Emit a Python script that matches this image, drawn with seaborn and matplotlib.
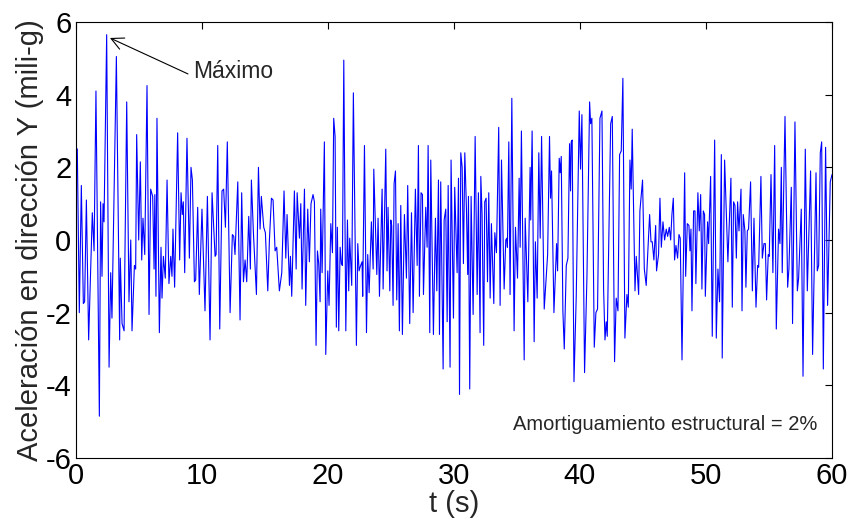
import numpy as np
import pandas as pd
import matplotlib
matplotlib.use("Agg")
import matplotlib.pyplot as plt
import seaborn as sns

t_00_10 = [0.00, 0.13, 0.29, 0.45, 0.61, 0.71, 0.85, 1.03, 1.32, 1.46,
           1.61, 1.88, 1.98, 2.09, 2.17, 2.25, 2.46, 2.65, 2.78, 2.88,
           3.23, 3.49, 3.54, 3.68, 3.84, 4.05, 4.23, 4.37, 4.47, 4.66,
           4.76, 4.84, 5.00, 5.13, 5.24, 5.34, 5.48, 5.66, 5.82, 5.95,
           6.11, 6.22, 6.28, 6.37, 6.45, 6.64, 6.77, 6.85, 6.96, 7.11,
           7.25, 7.40, 7.54, 7.64, 7.72, 7.85, 8.09, 8.25, 8.36, 8.46,
           8.54, 8.65, 8.83, 9.02, 9.15, 9.26, 9.42, 9.52, 9.68, 9.81]
a_00_10 = [2.55, 2.50, -2.00, 1.50, -1.75, -1.70, 1.10, -2.75, 0.75, -0.30,
           4.10, -4.85, 1.05, -1.00, 1.00, 0.50, 5.65, -3.50, -0.90, -2.15,
           5.05, -2.75, -0.50, -2.30, -2.50, 3.80, -1.70, 0.00, -2.50, -0.70,
           -0.80, 2.90, 0.00, 2.15, -0.55, 0.60, -0.40, 4.25, -2.05, 1.40,
           1.20, -0.80, 1.25, -1.55, 3.35, -2.55, -0.20, -1.60, -0.45, -1.05,
           1.65, -1.20, -0.45, -1.00, 0.30, -1.30, 2.95, -0.55, 1.30, 0.70,
           1.05, -0.90, 2.80, -0.50, 2.00, 1.65, -1.15, -1.10, 0.90, -1.50]

t_10_20 = [10.02, 10.26, 10.45, 10.66, 10.82, 11.06, 11.14, 11.27, 11.43, 11.61,
           11.74, 11.88, 12.03, 12.25, 12.43, 12.54, 12.64, 12.86, 13.04, 13.17,
           13.31, 13.44, 13.57, 13.73, 13.86, 13.94, 14.10, 14.21, 14.34, 14.50,
           14.63, 14.73, 14.92, 15.05, 15.24, 15.37, 15.53, 15.66, 15.82, 15.95,
           16.16, 16.35, 16.53, 16.67, 16.77, 16.96, 17.04, 17.14, 17.35, 17.49,
           17.57, 17.75, 17.86, 17.96, 18.15, 18.25, 18.41, 18.54, 18.67, 18.83,
           18.94, 19.07, 19.18, 19.28, 19.39, 19.44, 19.55, 19.73, 19.84]
a_10_20 = [0.85, -1.95, 1.20, -2.75, 1.30, -0.45, -0.40, 2.60, -2.45, 1.35,
           1.40, 0.35, 2.70, -2.00, 0.15, 0.10, -0.40, 1.60, -2.20, 1.30,
           -1.15, -0.55, -1.15, 0.65, -0.80, 1.65, 0.20, -0.60, -1.50, 2.00,
           0.30, 1.20, 0.35, 0.20, -1.40, 0.00, 1.15, 1.10, -0.30, -0.20,
           -1.40, -0.90, 1.35, -0.50, 0.70, -1.25, -0.45, -1.55, 1.35, -0.80,
           1.30, 0.05, 1.00, -1.35, 1.40, -1.80, 0.85, -0.60, 1.00, 1.25,
           1.05, -2.90, -0.30, -0.65, -1.70, 0.85, -0.90, 2.70, -3.15]

t_20_30 = [20.00, 20.10, 20.24, 20.37, 20.47, 20.58, 20.68, 20.76, 20.87, 20.98,
           21.08, 21.16, 21.27, 21.43, 21.56, 21.66, 21.74, 21.90, 22.03, 22.27,
           22.38, 22.48, 22.56, 22.72, 22.77, 22.91, 23.07, 23.17, 23.28, 23.46,
           23.60, 23.65, 23.89, 23.99, 24.10, 24.31, 24.39, 24.60, 24.70, 24.78,
           24.92, 25.00, 25.07, 25.18, 25.26, 25.37, 25.47, 25.58, 25.68, 25.79,
           25.92, 26.08, 26.24, 26.34, 26.50, 26.64, 26.77, 26.95, 27.09, 27.19,
           27.27, 27.40, 27.51, 27.59, 27.77, 27.88, 27.96, 28.09, 28.17, 28.38,
           28.54, 28.65, 28.78, 28.86, 28.96, 29.15, 29.23, 29.36, 29.47, 29.55,
           29.70, 29.78, 29.97]
a_20_30 = [-0.85, -1.80, 0.45, -0.35, 3.35, 2.85, -2.40, 0.35, -2.50, -0.20,
           -0.65, -0.70, 4.95, -2.50, 0.55, -1.40, 0.05, -1.25, 4.05, -2.90,
           -0.10, -0.85, -0.75, -0.60, -1.55, 2.60, -2.55, -0.40, -1.45, 0.50,
           -0.80, 1.95, -0.95, 0.60, -1.55, 1.40, -1.35, 2.50, -0.85, 0.90,
           -1.40, 0.55, 0.40, -1.80, 1.55, 1.90, -1.65, 0.45, -2.50, 0.95,
           -2.60, 0.70, -1.05, 1.50, -2.30, 0.75, -2.00, 1.40, -0.70, 2.60,
           -1.55, 1.30, 1.25, -1.50, 0.90, -0.20, 2.60, -2.55, 2.20, -2.60,
           0.60, -1.40, 1.65, -2.60, 1.60, -3.55, 0.55, 0.85, -2.25, 1.50,
           -3.50, 2.20, -2.15]

t_30_40 = [30.07, 30.26, 30.37, 30.45, 30.55, 30.66, 30.76, 30.87, 31.00, 31.10,
           31.16, 31.26, 31.37, 31.53, 31.69, 31.85, 31.95, 32.08, 32.14, 32.24,
           32.37, 32.45, 32.56, 32.67, 32.77, 32.88, 32.98, 33.17, 33.25, 33.38,
           33.56, 33.67, 33.78, 33.99, 34.12, 34.20, 34.25, 34.36, 34.46, 34.60,
           34.78, 34.89, 35.05, 35.18, 35.26, 35.36, 35.58, 35.66, 35.87, 36.05,
           36.10, 36.21, 36.37, 36.47, 36.61, 36.74, 36.85, 36.96, 37.17, 37.44,
           37.59, 37.67, 37.75, 37.94, 38.15, 38.23, 38.36, 38.44, 38.52, 38.65,
           38.76, 38.92, 39.05, 39.18, 39.26, 39.31, 39.39, 39.53, 39.71, 39.95]
a_30_40 = [1.45, -0.90, 1.70, -4.25, 2.40, 2.00, -0.65, 2.40, 0.85, -0.95,
           1.20, -4.10, 1.20, -2.05, 2.85, -1.50, 1.30, -2.55, 1.75, 0.70,
           -2.90, 1.05, 1.15, -1.15, 1.30, -1.60, 0.45, -1.75, 0.20, -0.35,
           3.10, -1.80, 2.20, -1.35, 0.00, 0.05, -0.20, 2.70, -1.50, 3.90,
           -2.50, 0.35, -1.05, 1.70, -0.20, 3.00, -3.30, 0.60, -1.70, 2.00,
           0.55, 3.00, -2.80, -0.05, -1.60, 2.40, 0.05, 2.85, -1.90, -0.40,
           2.85, 1.15, 1.90, -2.00, -0.10, -0.85, 2.25, 1.85, 2.30, -1.95,
           -3.00, -0.70, -0.50, 2.65, 1.35, 2.70, 2.75, -3.90, -1.55, 3.55]

t_40_50 = [40.05, 40.16, 40.37, 40.56, 40.77, 40.85, 40.95, 41.14, 41.27, 41.40,
           41.59, 41.75, 41.88, 41.99, 42.09, 42.17, 42.44, 42.57, 42.75, 42.88,
           43.02, 43.15, 43.28, 43.41, 43.57, 43.73, 43.84, 43.97, 44.07, 44.15,
           44.37, 44.47, 44.66, 44.76, 44.97, 45.11, 45.26, 45.53, 45.64, 45.74,
           45.87, 46.01, 46.08, 46.24, 46.35, 46.46, 46.59, 46.72, 46.85, 46.96,
           47.09, 47.20, 47.30, 47.41, 47.51, 47.62, 47.75, 47.86, 47.96, 48.10,
           48.31, 48.39, 48.52, 48.65, 48.73, 48.81, 48.89, 49.02, 49.13, 49.20,
           49.36, 49.47, 49.58, 49.68, 49.79, 49.89, 49.95]
a_40_50 = [1.95, 3.45, -3.65, -1.00, 3.80, 3.20, 3.35, -2.95, -2.00, -1.90,
           3.35, 3.55, -1.35, -2.75, -2.25, -2.65, 3.20, 3.40, -3.35, -1.60,
           -1.95, 2.35, 2.45, 4.45, -2.70, -1.50, -1.85, 2.20, 1.40, 3.05,
           -1.40, -0.45, -1.50, 0.80, 1.65, -0.80, -1.25, 0.70, -0.05, -0.05,
           -0.55, 0.40, -0.85, -0.40, 1.15, -0.20, 0.50, 0.00, 0.30, 0.10,
           0.35, 0.00, 0.70, 1.15, -0.55, -0.15, -0.50, 0.15, 0.05, -3.30,
           1.85, -1.00, 0.45, 0.40, -0.30, 0.30, -1.95, 0.80, 0.80, -1.20,
           1.30, 0.25, 1.25, -1.35, 0.80, 0.70, -1.55]

t_50_60 = [50.13, 50.21, 50.37, 50.50, 50.69, 50.82, 50.95, 51.08, 51.22, 51.29,
           51.48, 51.61, 51.74, 51.98, 52.09, 52.19, 52.30, 52.41, 52.51, 52.62,
           52.78, 52.86, 52.96, 53.09, 53.17, 53.28, 53.38, 53.54, 53.68, 53.81,
           53.97, 54.10, 54.18, 54.36, 54.47, 54.60, 54.71, 54.81, 54.94, 55.02,
           55.16, 55.31, 55.45, 55.58, 55.76, 55.87, 55.98, 56.05, 56.27, 56.48,
           56.58, 56.77, 56.87, 57.06, 57.25, 57.35, 57.56, 57.70, 57.88, 58.04,
           58.30, 58.46, 58.73, 58.83, 58.94, 59.07, 59.18, 59.31, 59.49, 59.65,
           59.86, 60.00]
a_50_60 = [0.50, -0.10, 1.75, -2.65, 2.75, -2.70, -0.80, -1.70, 2.35, -3.25,
           2.20, 0.80, -0.60, 1.70, -1.85, 1.05, 0.95, -0.50, 1.05, 0.25,
           1.40, -1.95, 0.70, 0.25, -1.30, 0.25, 0.30, 1.60, -1.40, 0.60,
           -1.85, -0.70, -0.75, 1.75, -0.50, -0.10, -0.10, -1.65, -0.40, -0.45,
           1.80, -0.90, 2.60, -2.45, 0.30, -0.10, 2.00, -0.90, 3.40, -1.30,
           -0.80, 1.45, -2.30, 3.25, -1.40, -1.05, 0.85, -3.75, 2.50, -1.40,
           1.90, -3.15, 1.85, -0.85, -0.70, 2.40, 2.70, -3.55, 2.55, -1.80,
           1.60, 1.80]

x_ticks = [0, 10, 20, 30, 40, 50, 60]
y_ticks = [-6, -4, -2, 0, 2, 4, 6]

# pico maximo y texto de amortiguamiento
t_max, a_max = 2.72, 5.56
t_lbl, a_lbl = 9.3, 4.45


def main():
    sns.set_style("white")
    plt.rcParams['font.family'] = ['Liberation Sans', 'DejaVu Sans']
    plt.rcParams['axes.unicode_minus'] = False

    df = pd.DataFrame({
        't': np.concatenate([t_00_10, t_10_20, t_20_30, t_30_40, t_40_50, t_50_60]),
        'a': np.concatenate([a_00_10, a_10_20, a_20_30, a_30_40, a_40_50, a_50_60]),
    })

    fig = plt.figure(figsize=(8.53, 5.22), dpi=100)
    ax = fig.add_axes([0.0887, 0.1226, 0.8867, 0.8353])
    sns.lineplot(data=df, x='t', y='a', ax=ax, color='blue', lw=0.8,
                 estimator=None, sort=False)

    ax.set_xlim(0, 60)
    ax.set_ylim(-6, 6)
    ax.set_xticks(x_ticks)
    ax.set_yticks(y_ticks)
    ax.tick_params(direction='in', top=True, right=True, length=5, width=0.8,
                   labelsize=21, colors='black', pad=3)
    for s in ax.spines.values():
        s.set_visible(True)
        s.set_color('black')
        s.set_linewidth(0.8)

    ax.set_xlabel('t (s)', fontsize=21, labelpad=0)
    ax.set_ylabel('Aceleración en dirección Y (mili-g)', fontsize=21, labelpad=1)

    ax.annotate('', xy=(t_max, a_max), xytext=(8.91, 4.57),
                arrowprops=dict(arrowstyle='->', color='black', lw=0.8,
                                mutation_scale=22, shrinkA=0, shrinkB=0))
    ax.text(t_lbl, a_lbl, 'Máximo', fontsize=16.5, ha='left', va='baseline')
    ax.text(58.83, -5.23, 'Amortiguamiento estructural = 2%', fontsize=14.5,
            ha='right', va='baseline')

    fig.savefig('out.png', dpi=100)
    plt.close(fig)


if __name__ == "__main__":
    main()
